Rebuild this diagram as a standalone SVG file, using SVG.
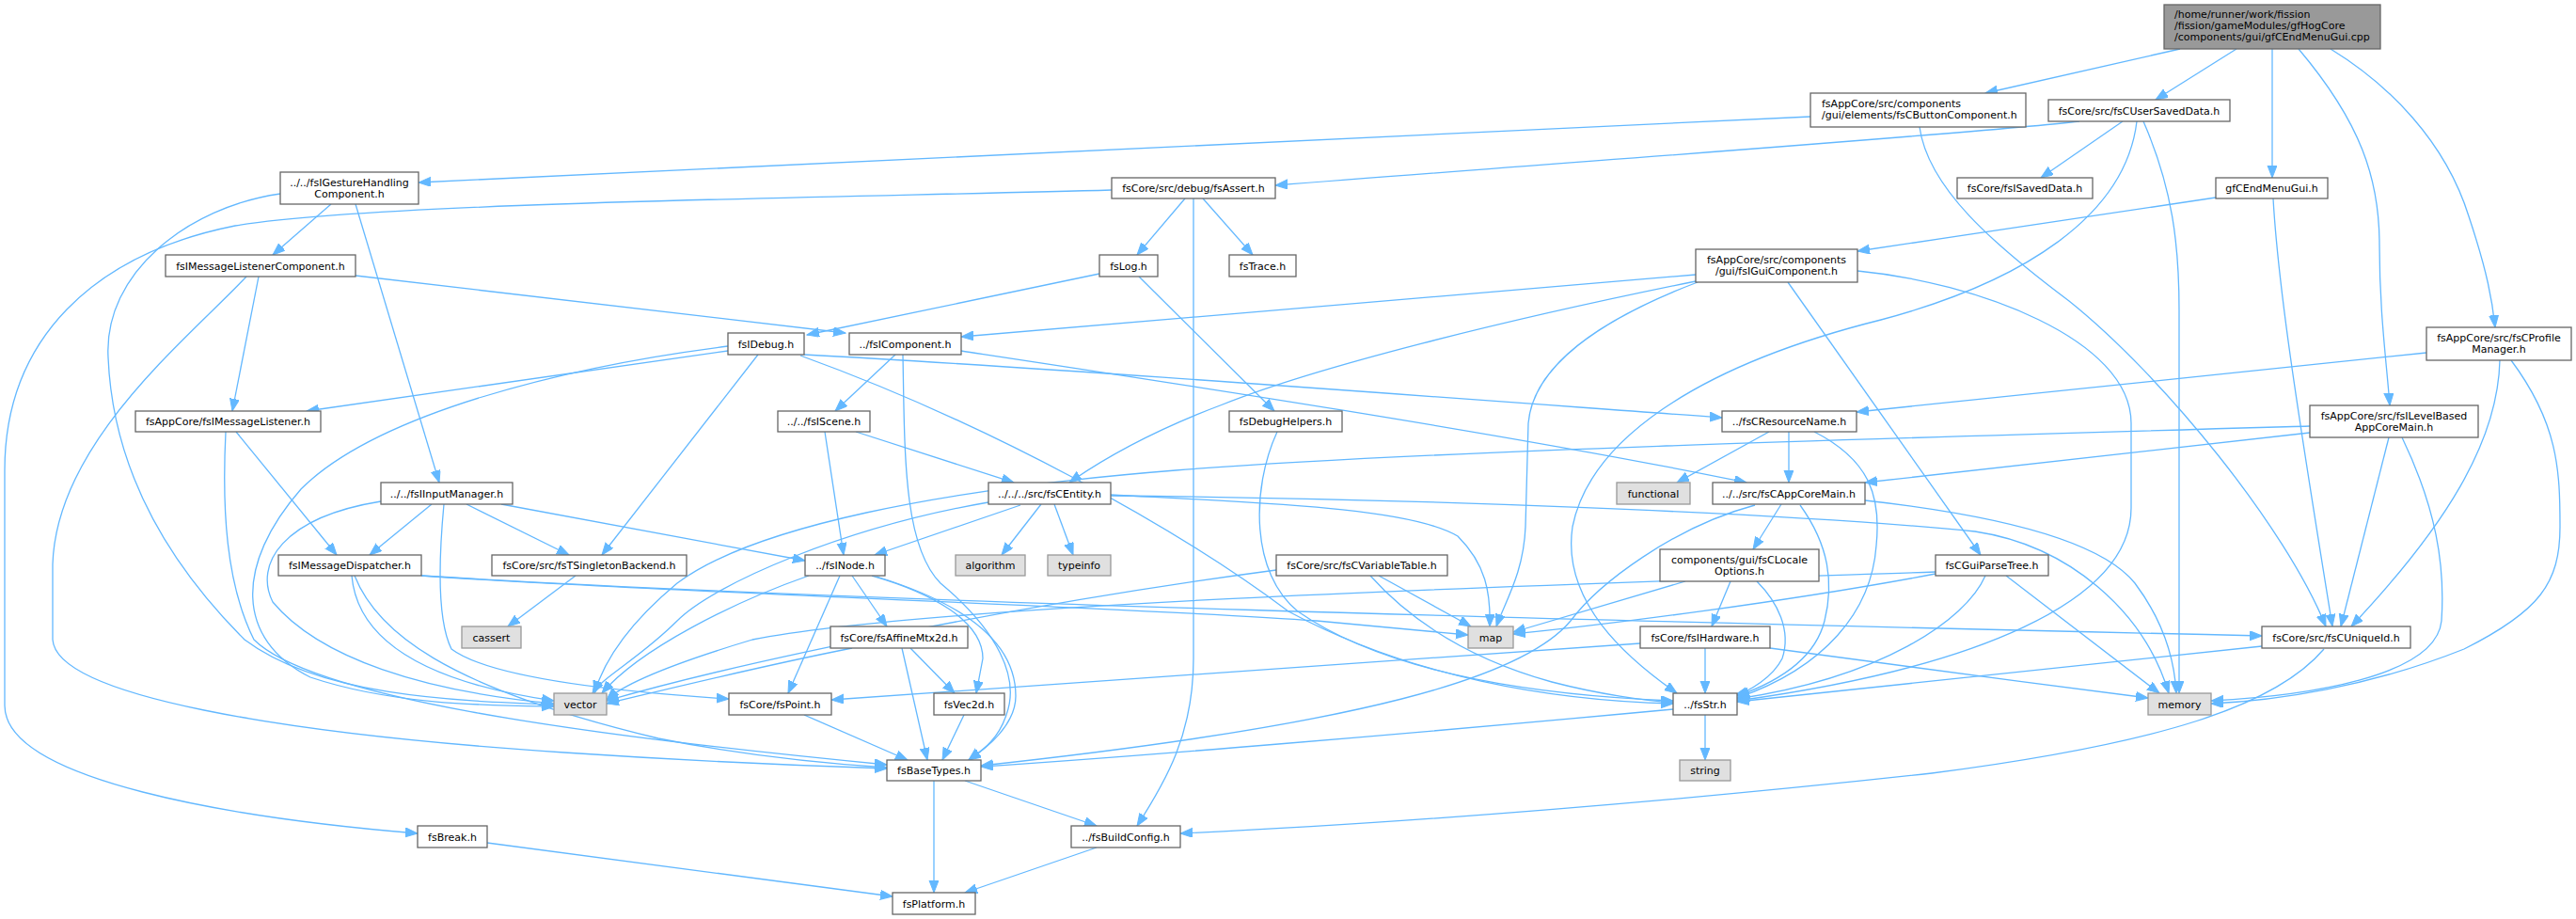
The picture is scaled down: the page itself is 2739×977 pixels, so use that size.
<svg xmlns="http://www.w3.org/2000/svg" width="2739" height="977" viewBox="0 0 2739 977">
<style>
.e{fill:none;stroke:#63b8ff;stroke-width:1.3;marker-end:url(#ah)}
.n rect{fill:#ffffff;stroke:#666666;stroke-width:1.3}
.g rect{fill:#e0e0e0;stroke:#999999;stroke-width:1.3}
.r rect{fill:#999999;stroke:#666666;stroke-width:1.3}
text{font-family:"DejaVu Sans","Liberation Sans",sans-serif;font-size:11px;fill:#000000;text-anchor:middle}
text.l{text-anchor:start}
</style>
<defs>
<marker id="ah" markerWidth="14" markerHeight="11" refX="13" refY="5" orient="auto" markerUnits="userSpaceOnUse"><path d="M0,0 L13,5 L0,10 z" fill="#63b8ff" stroke="#63b8ff" stroke-width="1"/></marker>
</defs>
<rect width="2739" height="977" fill="#ffffff"/>
<g id="edges">
<path class="e" d="M2318,52 L2111,99"/>
<path class="e" d="M2378,52 L2292,106"/>
<path class="e" d="M2416,52 L2416,189"/>
<path class="e" d="M2444,52 C2510,130 2530,190 2530,260 C2530,330 2537,380 2541,431"/>
<path class="e" d="M2478,52 C2540,90 2600,150 2625,230 C2645,290 2650,320 2653,348"/>
<path class="e" d="M1925,124 L445,194"/>
<path class="e" d="M2041,135 C2050,200 2120,260 2200,320 C2300,400 2430,560 2473,666"/>
<path class="e" d="M2211,129 C2100,142 1700,170 1356,197"/>
<path class="e" d="M2257,129 L2170,189"/>
<path class="e" d="M2272,129 C2260,230 2150,300 2000,340 C1800,390 1690,470 1672,560 C1660,640 1730,700 1783,737"/>
<path class="e" d="M2279,129 C2310,200 2317,260 2317,330 L2317,737"/>
<path class="e" d="M2356,210 L1975,267"/>
<path class="e" d="M2417,211 C2422,300 2440,420 2480,666"/>
<path class="e" d="M2456,453 C2000,466 1500,480 1250,500 C1000,520 800,560 720,620 C660,670 640,710 632,737"/>
<path class="e" d="M2456,460 L1983,513"/>
<path class="e" d="M2540,465 L2489,666"/>
<path class="e" d="M2554,465 C2590,540 2600,600 2596,660 C2590,720 2450,740 2351,745"/>
<path class="e" d="M2580,375 L1974,438"/>
<path class="e" d="M2658,383 C2656,470 2600,560 2500,666"/>
<path class="e" d="M2670,383 C2720,450 2722,500 2722,560 C2722,620 2700,650 2620,690 C2520,730 2420,745 2351,748"/>
<path class="e" d="M352,217 L290,271"/>
<path class="e" d="M378,217 L467,513"/>
<path class="e" d="M298,206 C200,220 110,290 115,380 C120,500 180,600 260,680 C340,740 480,745 589,749"/>
<path class="e" d="M275,294 L247,437"/>
<path class="e" d="M378,293 L899,354"/>
<path class="e" d="M262,294 C200,360 60,470 56,600 L56,680 C60,740 300,780 600,800 C750,810 880,815 943,817"/>
<path class="e" d="M251,459 L358,590"/>
<path class="e" d="M240,459 C236,540 240,620 270,680 C330,740 600,780 943,813"/>
<path class="e" d="M774,373 L326,437"/>
<path class="e" d="M774,368 C600,390 400,440 320,520 C250,600 250,680 330,720 C420,750 520,750 589,751"/>
<path class="e" d="M806,377 L640,590"/>
<path class="e" d="M855,377 C1100,390 1500,420 1831,444"/>
<path class="e" d="M851,378 C1050,450 1250,560 1370,650 C1500,720 1650,745 1779,748"/>
<path class="e" d="M1169,291 L858,356"/>
<path class="e" d="M1211,294 L1355,437"/>
<path class="e" d="M1260,211 L1209,271"/>
<path class="e" d="M1279,211 L1332,271"/>
<path class="e" d="M1269,211 L1269,700 C1269,780 1240,830 1209,878"/>
<path class="e" d="M1182,202 C900,210 400,215 250,240 C100,270 5,360 5,500 L5,750 C5,830 250,870 444,886"/>
<path class="e" d="M952,377 L888,437"/>
<path class="e" d="M1022,373 C1200,400 1600,460 1857,513"/>
<path class="e" d="M960,377 C962,480 960,580 1000,620 C1060,670 1085,720 1070,760 C1060,790 1040,800 1030,808"/>
<path class="e" d="M877,459 L897,590"/>
<path class="e" d="M910,459 L1078,513"/>
<path class="e" d="M1107,536 L1065,590"/>
<path class="e" d="M1121,536 L1141,590"/>
<path class="e" d="M1085,537 L930,590"/>
<path class="e" d="M1051,534 C900,560 760,620 720,660 C680,700 640,720 630,737"/>
<path class="e" d="M1181,527 C1500,530 1900,545 2100,565 C2200,580 2280,650 2306,737"/>
<path class="e" d="M1181,526 C1350,535 1500,540 1550,570 C1580,600 1585,630 1584,666"/>
<path class="e" d="M906,612 L943,666"/>
<path class="e" d="M893,612 L838,737"/>
<path class="e" d="M927,612 C990,630 1045,660 1045,700 L1038,737"/>
<path class="e" d="M932,613 C1020,640 1080,680 1080,740 C1080,770 1050,795 1030,808"/>
<path class="e" d="M860,612 C780,640 680,690 640,737"/>
<path class="e" d="M968,689 L1015,737"/>
<path class="e" d="M959,689 L986,808"/>
<path class="e" d="M906,689 C800,710 700,735 645,748"/>
<path class="e" d="M855,760 L965,808"/>
<path class="e" d="M1025,760 L1002,808"/>
<path class="e" d="M993,830 L993,949"/>
<path class="e" d="M1026,830 L1166,878"/>
<path class="e" d="M1166,901 L1026,949"/>
<path class="e" d="M518,896 L949,953"/>
<path class="e" d="M1813,760 L1813,808"/>
<path class="e" d="M1779,754 C1500,780 1200,805 1043,815"/>
<path class="e" d="M1813,689 L1813,737"/>
<path class="e" d="M1744,684 L884,744"/>
<path class="e" d="M1882,689 C2000,705 2150,725 2284,742"/>
<path class="e" d="M2405,687 C2200,710 2000,730 1847,746"/>
<path class="e" d="M2471,690 C2420,750 2300,790 2054,822 C1800,850 1500,875 1255,886"/>
<path class="e" d="M1881,459 L1783,513"/>
<path class="e" d="M1902,459 L1902,513"/>
<path class="e" d="M1929,459 C1990,490 2000,530 1995,580 C1990,650 1940,710 1847,742"/>
<path class="e" d="M1894,536 L1864,584"/>
<path class="e" d="M1866,537 C1780,560 1700,620 1670,660 C1620,720 1450,770 1043,814"/>
<path class="e" d="M1914,537 C1945,580 1950,620 1940,660 C1930,700 1890,725 1847,740"/>
<path class="e" d="M1983,532 C2100,545 2230,570 2270,620 C2300,660 2312,700 2314,737"/>
<path class="e" d="M1840,618 L1820,666"/>
<path class="e" d="M1868,618 C1890,640 1905,670 1895,700 C1885,720 1860,735 1845,739"/>
<path class="e" d="M1792,618 L1609,672"/>
<path class="e" d="M1466,612 L1564,666"/>
<path class="e" d="M1457,612 C1500,660 1560,700 1650,725 C1700,738 1750,745 1779,747"/>
<path class="e" d="M1357,606 C1100,640 800,700 645,745"/>
<path class="e" d="M2111,612 C2090,660 2000,720 1847,743"/>
<path class="e" d="M2133,612 L2296,737"/>
<path class="e" d="M2058,610 C1900,640 1700,665 1609,674"/>
<path class="e" d="M2058,608 C1700,620 1000,640 800,680 C700,710 660,730 645,744"/>
<path class="e" d="M1803,292 L1022,358"/>
<path class="e" d="M1803,299 C1600,340 1400,390 1300,430 C1220,460 1170,490 1137,513"/>
<path class="e" d="M1805,300 C1700,340 1630,390 1625,450 L1622,560 C1620,610 1600,640 1591,666"/>
<path class="e" d="M1901,300 L2106,590"/>
<path class="e" d="M1975,288 C2100,300 2266,360 2266,450 L2266,540 C2266,640 2100,710 1847,745"/>
<path class="e" d="M459,536 L393,590"/>
<path class="e" d="M496,536 L605,590"/>
<path class="e" d="M533,536 L856,596"/>
<path class="e" d="M405,533 C300,550 270,600 290,640 C340,700 450,735 589,748"/>
<path class="e" d="M472,536 C466,600 465,660 480,690 C520,720 650,735 775,743"/>
<path class="e" d="M374,612 C380,680 450,725 589,745"/>
<path class="e" d="M377,612 C400,670 470,730 700,785 C800,805 880,812 943,816"/>
<path class="e" d="M448,612 C700,630 1200,645 1400,660 C1480,667 1530,672 1561,675"/>
<path class="e" d="M448,612 C900,640 1700,660 2405,676"/>
<path class="e" d="M612,612 L540,666"/>
<path class="e" d="M1358,459 C1330,520 1330,610 1380,650 C1480,720 1650,740 1779,745"/>
</g>
<g id="n0" class="r"><rect x="2301" y="5" width="230" height="47"/><text class="l" x="2312" y="19">/home/runner/work/fission</text><text class="l" x="2312" y="31">/fission/gameModules/gfHogCore</text><text class="l" x="2312" y="43">/components/gui/gfCEndMenuGui.cpp</text></g>
<g id="n1" class="n"><rect x="1925" y="99" width="229" height="36"/><text class="l" x="1937" y="114">fsAppCore/src/components</text><text class="l" x="1937" y="126">/gui/elements/fsCButtonComponent.h</text></g>
<g id="n2" class="n"><rect x="2178" y="106" width="193" height="23"/><text x="2274.5" y="121.5">fsCore/src/fsCUserSavedData.h</text></g>
<g id="n3" class="n"><rect x="2356" y="189" width="119" height="22"/><text x="2415.5" y="204">gfCEndMenuGui.h</text></g>
<g id="n4" class="n"><rect x="2456" y="431" width="179" height="34"/><text x="2545.5" y="445.5">fsAppCore/src/fsILevelBased</text><text x="2545.5" y="457.5">AppCoreMain.h</text></g>
<g id="n5" class="n"><rect x="2580" y="348" width="154" height="35"/><text x="2657" y="363">fsAppCore/src/fsCProfile</text><text x="2657" y="375">Manager.h</text></g>
<g id="n6" class="n"><rect x="298" y="183" width="147" height="34"/><text x="371.5" y="197.5">../../fsIGestureHandling</text><text x="371.5" y="209.5">Component.h</text></g>
<g id="n7" class="n"><rect x="1182" y="189" width="174" height="22"/><text x="1269" y="204">fsCore/src/debug/fsAssert.h</text></g>
<g id="n8" class="n"><rect x="2081" y="189" width="144" height="22"/><text x="2153" y="204">fsCore/fsISavedData.h</text></g>
<g id="n9" class="n"><rect x="176" y="271" width="202" height="23"/><text x="277" y="286.5">fsIMessageListenerComponent.h</text></g>
<g id="n10" class="n"><rect x="1169" y="271" width="62" height="23"/><text x="1200" y="286.5">fsLog.h</text></g>
<g id="n11" class="n"><rect x="1307" y="271" width="71" height="23"/><text x="1342.5" y="286.5">fsTrace.h</text></g>
<g id="n12" class="n"><rect x="1803" y="265" width="172" height="35"/><text x="1889" y="280">fsAppCore/src/components</text><text x="1889" y="292">/gui/fsIGuiComponent.h</text></g>
<g id="n13" class="n"><rect x="774" y="354" width="81" height="23"/><text x="814.5" y="369.5">fsIDebug.h</text></g>
<g id="n14" class="n"><rect x="903" y="354" width="119" height="23"/><text x="962.5" y="369.5">../fsIComponent.h</text></g>
<g id="n15" class="n"><rect x="144" y="437" width="197" height="22"/><text x="242.5" y="452">fsAppCore/fsIMessageListener.h</text></g>
<g id="n16" class="n"><rect x="827" y="437" width="98" height="22"/><text x="876" y="452">../../fsIScene.h</text></g>
<g id="n17" class="n"><rect x="1307" y="437" width="120" height="22"/><text x="1367" y="452">fsDebugHelpers.h</text></g>
<g id="n18" class="n"><rect x="1831" y="437" width="143" height="22"/><text x="1902.5" y="452">../fsCResourceName.h</text></g>
<g id="n19" class="n"><rect x="405" y="513" width="140" height="23"/><text x="475" y="528.5">../../fsIInputManager.h</text></g>
<g id="n20" class="n"><rect x="1051" y="513" width="130" height="23"/><text x="1116" y="528.5">../../../src/fsCEntity.h</text></g>
<g id="n21" class="g"><rect x="1719" y="513" width="78" height="23"/><text x="1758" y="528.5">functional</text></g>
<g id="n22" class="n"><rect x="1821" y="513" width="162" height="23"/><text x="1902" y="528.5">../../src/fsCAppCoreMain.h</text></g>
<g id="n23" class="n"><rect x="296" y="590" width="152" height="22"/><text x="372" y="605">fsIMessageDispatcher.h</text></g>
<g id="n24" class="n"><rect x="523" y="590" width="207" height="22"/><text x="626.5" y="605">fsCore/src/fsTSingletonBackend.h</text></g>
<g id="n25" class="n"><rect x="856" y="590" width="85" height="22"/><text x="898.5" y="605">../fsINode.h</text></g>
<g id="n26" class="g"><rect x="1016" y="590" width="74" height="22"/><text x="1053" y="605">algorithm</text></g>
<g id="n27" class="g"><rect x="1114" y="590" width="67" height="22"/><text x="1147.5" y="605">typeinfo</text></g>
<g id="n28" class="n"><rect x="1357" y="590" width="182" height="22"/><text x="1448" y="605">fsCore/src/fsCVariableTable.h</text></g>
<g id="n29" class="n"><rect x="1765" y="584" width="169" height="34"/><text x="1849.5" y="598.5">components/gui/fsCLocale</text><text x="1849.5" y="610.5">Options.h</text></g>
<g id="n30" class="n"><rect x="2058" y="590" width="120" height="22"/><text x="2118" y="605">fsCGuiParseTree.h</text></g>
<g id="n31" class="g"><rect x="491" y="666" width="63" height="23"/><text x="522.5" y="681.5">cassert</text></g>
<g id="n32" class="n"><rect x="883" y="666" width="146" height="23"/><text x="956" y="681.5">fsCore/fsAffineMtx2d.h</text></g>
<g id="n33" class="g"><rect x="1561" y="666" width="48" height="23"/><text x="1585" y="681.5">map</text></g>
<g id="n34" class="n"><rect x="1744" y="666" width="138" height="23"/><text x="1813" y="681.5">fsCore/fsIHardware.h</text></g>
<g id="n35" class="n"><rect x="2405" y="666" width="158" height="23"/><text x="2484" y="681.5">fsCore/src/fsCUniqueId.h</text></g>
<g id="n36" class="g"><rect x="589" y="737" width="56" height="23"/><text x="617" y="752.5">vector</text></g>
<g id="n37" class="n"><rect x="775" y="737" width="109" height="23"/><text x="829.5" y="752.5">fsCore/fsPoint.h</text></g>
<g id="n38" class="n"><rect x="993" y="737" width="75" height="23"/><text x="1030.5" y="752.5">fsVec2d.h</text></g>
<g id="n39" class="n"><rect x="1779" y="737" width="68" height="23"/><text x="1813" y="752.5">../fsStr.h</text></g>
<g id="n40" class="g"><rect x="2284" y="737" width="67" height="23"/><text x="2317.5" y="752.5">memory</text></g>
<g id="n41" class="n"><rect x="943" y="808" width="100" height="22"/><text x="993" y="823">fsBaseTypes.h</text></g>
<g id="n42" class="g"><rect x="1786" y="808" width="54" height="22"/><text x="1813" y="823">string</text></g>
<g id="n43" class="n"><rect x="1139" y="878" width="116" height="23"/><text x="1197" y="893.5">../fsBuildConfig.h</text></g>
<g id="n44" class="n"><rect x="444" y="878" width="74" height="23"/><text x="481" y="893.5">fsBreak.h</text></g>
<g id="n45" class="n"><rect x="949" y="949" width="88" height="23"/><text x="993" y="964.5">fsPlatform.h</text></g>
</svg>
